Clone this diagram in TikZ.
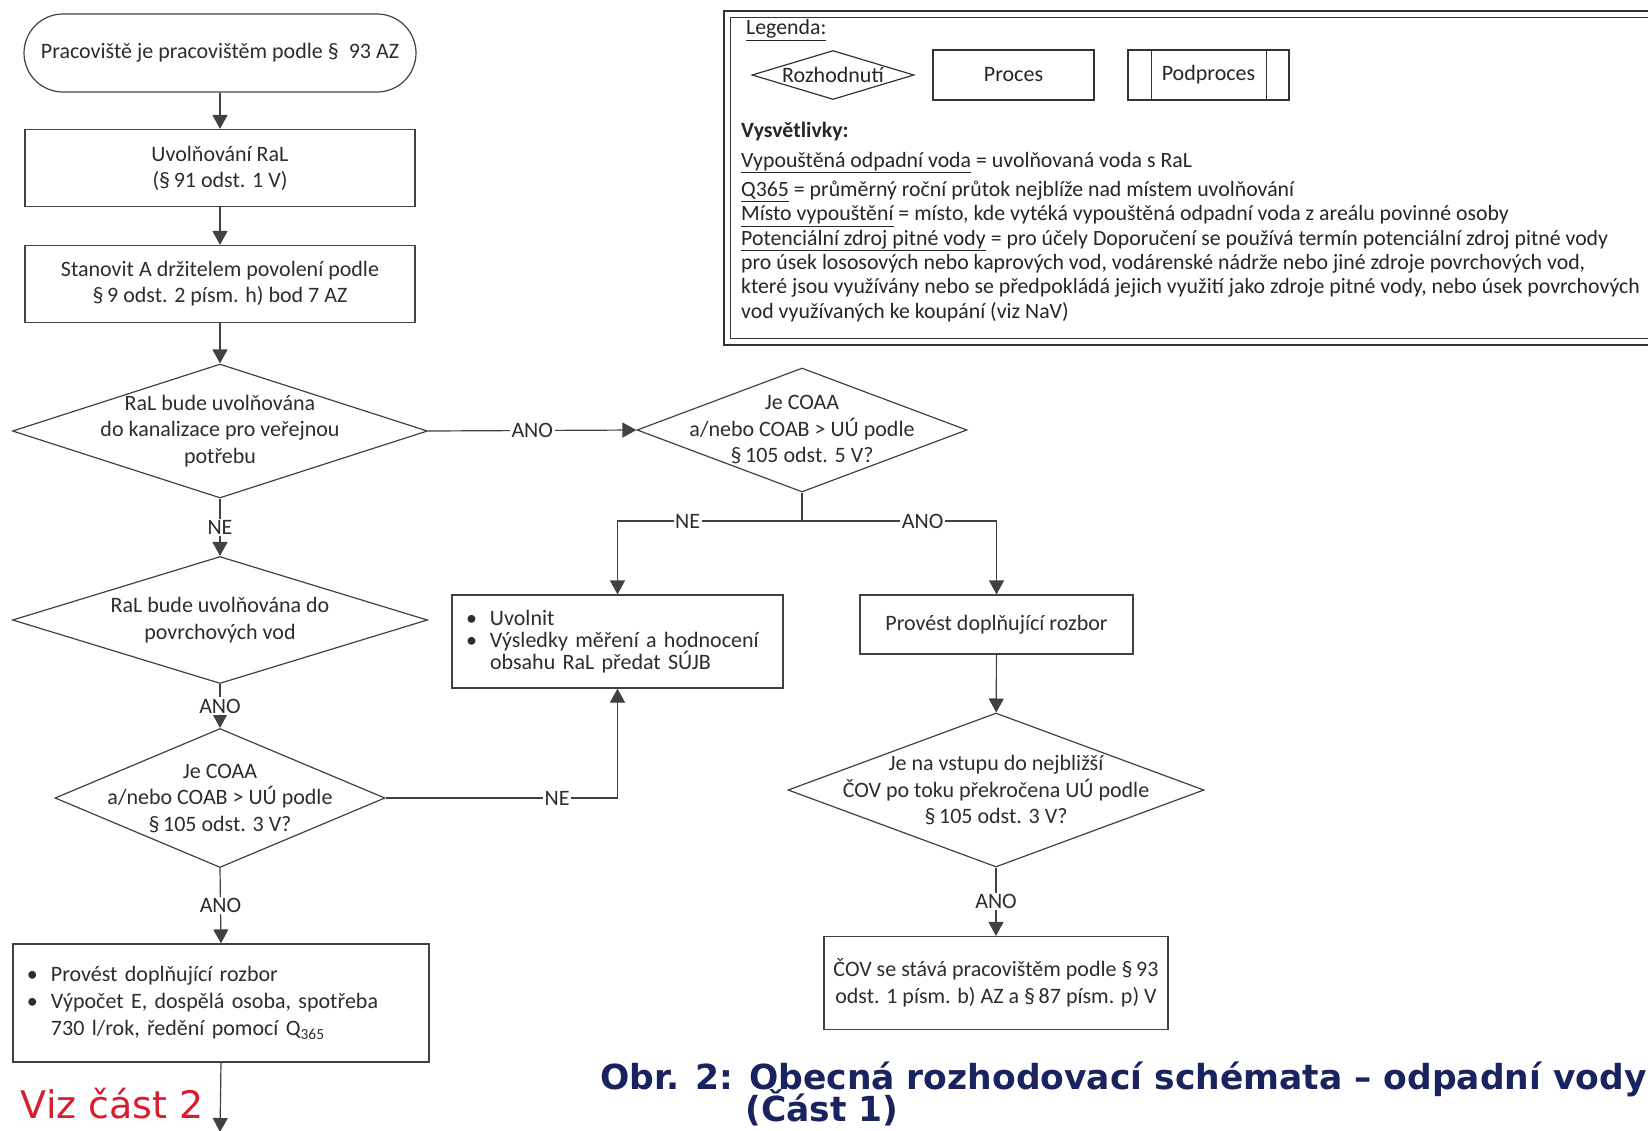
\documentclass[tikz,border=0pt]{standalone}
\usepackage{fontspec}
\setmainfont{Carlito}
\newfontfamily\capfont{DejaVu Sans}
\usetikzlibrary{arrows.meta,shapes.geometric}
\definecolor{linegray}{RGB}{65,65,65}
\definecolor{txtgray}{RGB}{45,45,45}
\definecolor{vizred}{RGB}{215,30,45}
\definecolor{capnavy}{RGB}{25,35,95}
\newcommand{\bul}{\makebox[24pt][l]{\textbullet}}
\newcommand{\bulind}{\hspace*{24pt}}
\newcommand{\capfmt}{\capfont\bfseries\fontsize{34.5}{32}\selectfont\lineskiplimit=-50pt\relax}
\tikzset{
  base/.style={draw=linegray, line width=1.2pt, text=txtgray, font=\fontsize{22}{26}\selectfont, align=center, inner sep=0pt},
  term/.style={base, rectangle, rounded corners=39pt, minimum width=392pt, minimum height=78pt},
  proc/.style={base, rectangle},
  decision/.style={base, diamond},
  dtext/.style={text=txtgray, font=\fontsize{22}{26.5}\selectfont, align=center, inner sep=0pt},
  arr/.style={draw=linegray, line width=1.2pt, -{Triangle[length=14pt,width=15pt]}},
  conn/.style={draw=linegray, line width=1.2pt},
  lbl/.style={fill=white, text=txtgray, font=\fontsize{22}{24}\selectfont, inner sep=1.5pt},
  legtext/.style={text=black!85, font=\fontsize{21.8}{24.3}\selectfont, align=left, inner sep=0pt},
  capt/.style={text=capnavy, font=\capfmt, align=left, inner sep=0pt},
}
\begin{document}
\begin{tikzpicture}[x=1pt, y=-1pt]
\useasboundingbox[fill=white] (0,0) rectangle (1648,1130);
% legenda
\draw[draw=black!80, line width=1.5pt] (724,11) rectangle (1660,345);
\draw[draw=black!80, line width=1pt] (730,17) rectangle (1654,338);
\node[legtext, anchor=west] (leg) at (746,30) {\underline{Legenda:}};
\node[base, diamond, aspect=3.3, draw=black!80, text=black!85, minimum width=162pt, minimum height=49pt] (ldec) at (833,75) {Rozhodnutí};
\node[proc, draw=black!80, text=black!85, minimum width=161pt, minimum height=50pt] (lproc) at (1013.5,75) {Proces};
\node[proc, draw=black!80, text=black!85, minimum width=161pt, minimum height=50pt] (lsub) at (1208.5,75) {Podproces};
\draw[draw=black!80, line width=1.2pt] ([xshift=24pt]lsub.north west) -- ([xshift=24pt]lsub.south west);
\draw[draw=black!80, line width=1.2pt] ([xshift=-23pt]lsub.north east) -- ([xshift=-23pt]lsub.south east);
\node[legtext, anchor=west, font=\fontsize{21.8}{24}\selectfont\bfseries] (vysv) at (741,132) {Vysvětlivky:};
\node[legtext, anchor=north west] (expl) at (741,152) {\underline{Vypouštěná odpadní voda} = uvolňovaná voda s RaL\\[5pt]
\underline{Q365} = průměrný roční průtok nejblíže nad místem uvolňování\\
\underline{Místo vypouštění} = místo, kde vytéká vypouštěná odpadní voda z areálu povinné osoby\\
\underline{Potenciální zdroj pitné vody} = pro účely Doporučení se používá termín potenciální zdroj pitné vody\\
pro úsek lososových nebo kaprových vod, vodárenské nádrže nebo jiné zdroje povrchových vod,\\
které jsou využívány nebo se předpokládá jejich využití jako zdroje pitné vody, nebo úsek povrchových\\
vod využívaných ke koupání (viz NaV)};
% levy sloupec
\node[term] (start) at (220,53) {Pracoviště je pracovištěm podle §\ \ 93 AZ};
\node[proc, minimum width=390pt, minimum height=77pt] (b1) at (220,168) {Uvolňování RaL\\(§\,91 odst. 1 V)};
\node[proc, minimum width=390pt, minimum height=77pt] (b2) at (220,284) {Stanovit A držitelem povolení podle\\§\,9 odst. 2 písm. h) bod 7 AZ};
\node[decision, minimum width=415pt, minimum height=134pt, label={[dtext]center:{RaL bude uvolňována\\do kanalizace pro veřejnou\\potřebu}}] (d1) at (220,431) {};
\node[decision, minimum width=415pt, minimum height=127pt, label={[dtext]center:{RaL bude uvolňována do\\povrchových vod}}] (d2) at (220,620) {};
\node[decision, minimum width=330pt, minimum height=139pt, label={[dtext]center:{Je COAA\\a/nebo COAB > UÚ podle\\§\,105 odst. 3 V?}}] (d3) at (220,798) {};
\node[proc, align=left, text width=388pt, inner xsep=14pt, minimum height=118pt, font=\fontsize{22}{27}\selectfont] (b5) at (221,1003) {\bul Provést doplňující rozbor\\
\bul Výpočet E, dospělá osoba, spotřeba\\
\bulind 730 l/rok, ředění pomocí Q\textsubscript{365}};
\coordinate (out) at (220,1132);
\node[text=vizred, font=\capfont\fontsize{38}{38}\selectfont, inner sep=0pt, anchor=base east] (viz) at (204,1118) {Viz část 2};
% pravy sloupec
\node[decision, minimum width=330pt, minimum height=124pt, label={[dtext]center:{Je COAA\\a/nebo COAB > UÚ podle\\§\,105 odst. 5 V?}}] (r1) at (802,430) {};
\coordinate (sp) at (802,521);
\node[proc, align=left, text width=303pt, inner xsep=14pt, minimum height=93pt, font=\fontsize{22}{22}\selectfont] (uv) at (617.5,641.5) {\bul Uvolnit\\
\bul Výsledky měření a hodnocení\\
\bulind obsahu RaL předat SÚJB};
\node[proc, minimum width=273pt, minimum height=59pt] (pr) at (996.5,624.5) {Provést doplňující rozbor};
\node[decision, minimum width=416pt, minimum height=154pt, label={[dtext]center:{Je na vstupu do nejbližší\\ČOV po toku překročena UÚ podle\\§\,105 odst. 3 V?}}] (r2) at (996,790) {};
\node[proc, minimum width=344pt, minimum height=93pt, font=\fontsize{22}{27}\selectfont] (cov) at (996,983) {ČOV se stává pracovištěm podle §\,93\\odst. 1 písm. b) AZ a §\,87 písm. p) V};
% popisek
\node[capt, anchor=north west] (cap) at (600,1062) {Obr. 2: Obecná rozhodovací schémata – odpadní vody\\
\phantom{Obr. 2:~}(Část 1)};
% spojnice
\draw[arr] (start) -- (b1);
\draw[arr] (b1) -- (b2);
\draw[arr] (b2) -- (d1);
\draw[arr] (d1.south) -- node[lbl]{NE} (d2.north);
\draw[arr] (d2.south) -- node[lbl]{ANO} (d3.north);
\draw[arr] (d3.south) -- node[lbl]{ANO} (b5.north);
\draw[arr] (b5.south) -- (out);
\draw[arr] (d1.east) -- node[lbl]{ANO} (r1.west);
\draw[conn] (r1.south) -- (sp);
\draw[arr] (sp) -| node[lbl, pos=0.31]{NE} (uv.north);
\draw[arr] (sp) -| node[lbl, pos=0.31]{ANO} (pr.north);
\draw[arr] (d3.east) -| node[lbl, pos=0.37]{NE} (uv.south);
\draw[arr] (pr) -- (r2);
\draw[arr] (r2.south) -- node[lbl]{ANO} (cov.north);
\end{tikzpicture}
\end{document}
